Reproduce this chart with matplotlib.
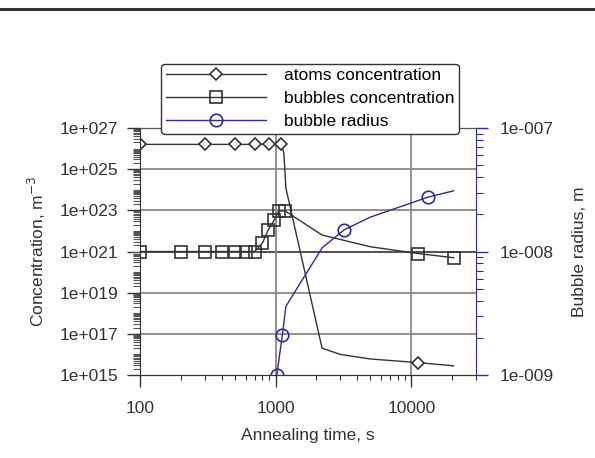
import matplotlib
matplotlib.use("Agg")
import matplotlib.pyplot as plt
from matplotlib.ticker import LogLocator, FuncFormatter, NullFormatter, FixedLocator
from matplotlib.lines import Line2D
import numpy as np

plt.rcParams['font.family'] = ['Liberation Sans', 'DejaVu Sans']
plt.rcParams['font.size'] = 12.5

# atoms concentration (m^-3)
atoms_t = [100, 300, 500, 700, 900, 1100, 1150, 1190, 2200, 3000, 5000, 11200, 20500]
atoms_c = [1.6e26, 1.6e26, 1.6e26, 1.6e26, 1.6e26, 1.6e26, 6e25, 1.2e24, 2e16, 1e16, 6e15, 4e15, 2.8e15]
atoms_mk = [0, 1, 2, 3, 4, 5, 11]

# bubbles concentration (m^-3)
bub_t = [100, 200, 300, 400, 500, 600, 700, 800, 880, 980, 1050, 1170, 2200, 5000, 11200, 20500]
bub_c = [1e21, 1e21, 1e21, 1e21, 1e21, 1e21, 1e21, 2.6e21, 1.1e22, 3.5e22, 9e22, 9.5e22,
         6.3e21, 1.7e21, 8e20, 5e20]
bub_mk = [0, 1, 2, 3, 4, 5, 6, 7, 8, 9, 10, 11, 14, 15]

# bubble radius (m)
rad_t = [1020, 1120, 1190, 2200, 3200, 5000, 13200, 20500]
rad_r = [1e-9, 2.1e-9, 3.6e-9, 1.07e-8, 1.5e-8, 1.9e-8, 2.75e-8, 3.1e-8]
rad_mk = [0, 1, 4, 6]

dark = '#333333'
blue = '#2b2b9c'

fig = plt.figure(figsize=(5.95, 4.58), dpi=100)
ax = fig.add_axes([0.2353, 0.1812, 0.5647, 0.5393])
ax2 = ax.twinx()

ax.set_xscale('log')
ax.set_yscale('log')
ax2.set_yscale('log')
ax.set_xlim(100, 30000)
ax.set_ylim(1e15, 1e27)
ax2.set_ylim(1e-9, 1e-7)

# grid
for yv in [1e17, 1e19, 1e23, 1e25]:
    ax.axhline(yv, color='#888888', lw=1.3, zorder=0)
ax.axhline(1e21, color=dark, lw=1.2, zorder=0)
for xv in [1000, 10000]:
    ax.axvline(xv, color='#888888', lw=1.3, zorder=0)

l1, = ax.plot(atoms_t, atoms_c, color=dark, lw=1, marker='D', ms=6.5, mfc='white',
              mec=dark, mew=1.2, markevery=atoms_mk, label='atoms concentration')
l2, = ax.plot(bub_t, bub_c, color=dark, lw=1, marker='s', ms=8, mfc='none',
              mec=dark, mew=1.2, markevery=bub_mk, label='bubbles concentration')
l3, = ax2.plot(rad_t, rad_r, color=blue, lw=1, marker='o', ms=9, mfc='none',
               mec=blue, mew=1.2, markevery=rad_mk, label='bubble radius')

def conc_fmt(v, pos):
    e = int(round(np.log10(v)))
    return '1e+%03d' % e

def rad_fmt(v, pos):
    e = int(round(np.log10(v)))
    return '1e-%03d' % abs(e)

ax.yaxis.set_major_locator(FixedLocator([10.0 ** e for e in range(15, 28, 2)]))
ax.yaxis.set_major_formatter(FuncFormatter(conc_fmt))
ax.yaxis.set_minor_locator(LogLocator(base=10, subs=np.arange(1, 10), numticks=50))
ax.yaxis.set_minor_formatter(NullFormatter())
ax.tick_params(axis='y', which='major', length=9.4, width=1, color=dark, direction='out', pad=6.5)
ax.tick_params(axis='y', which='minor', length=5, width=0.8, color='#555555', direction='out')

ax.xaxis.set_major_locator(FixedLocator([100, 1000, 10000]))
ax.xaxis.set_major_formatter(FuncFormatter(lambda v, p: '%d' % v))
ax.xaxis.set_minor_locator(LogLocator(base=10, subs=np.arange(2, 10), numticks=20))
ax.xaxis.set_minor_formatter(NullFormatter())
ax.tick_params(axis='x', which='major', length=8.6, width=1, color=dark, direction='out', pad=10)
ax.tick_params(axis='x', which='minor', length=3.6, width=0.8, color=dark, direction='out')

ax2.yaxis.set_major_locator(FixedLocator([1e-9, 1e-8, 1e-7]))
ax2.yaxis.set_major_formatter(FuncFormatter(rad_fmt))
ax2.yaxis.set_minor_locator(LogLocator(base=10, subs=np.arange(2, 10), numticks=20))
ax2.yaxis.set_minor_formatter(NullFormatter())
ax2.tick_params(axis='y', which='major', length=8.6, width=1, color=blue, direction='out', pad=8.6)
ax2.tick_params(axis='y', which='minor', length=5, width=0.8, color=blue, direction='out')

for a in (ax, ax2):
    for s in ('left', 'bottom', 'top'):
        a.spines[s].set_color(dark)
ax2.spines['right'].set_color(blue)
ax.spines['right'].set_visible(False)
ax2.spines['left'].set_visible(False)
ax2.spines['top'].set_color('#555555')

ax.set_xlabel('Annealing time, s', color=dark, labelpad=9)
ax.set_ylabel('Concentration, m$^{-3}$', color=dark, labelpad=8)
ax2.set_ylabel('Bubble radius, m', color=dark, labelpad=13)
ax.tick_params(colors=dark, which='both', axis='x')
ax.tick_params(labelcolor=dark, axis='y')
ax2.tick_params(labelcolor=dark, axis='y')

leg = ax2.legend(handles=[l1, l2, l3], loc='center', bbox_to_anchor=(0.506, 1.119),
                 frameon=True, fancybox=True, edgecolor=dark, framealpha=1,
                 handlelength=5.8, borderpad=0.25, labelspacing=0.45, handletextpad=1.0,
                 fontsize=12.5)
leg.get_frame().set_linewidth(1)
leg.set_zorder(10)

fig.add_artist(Line2D([0, 1], [1 - 9 / 458, 1 - 9 / 458], color=dark, lw=2.2))

fig.savefig('out.png', dpi=100)
